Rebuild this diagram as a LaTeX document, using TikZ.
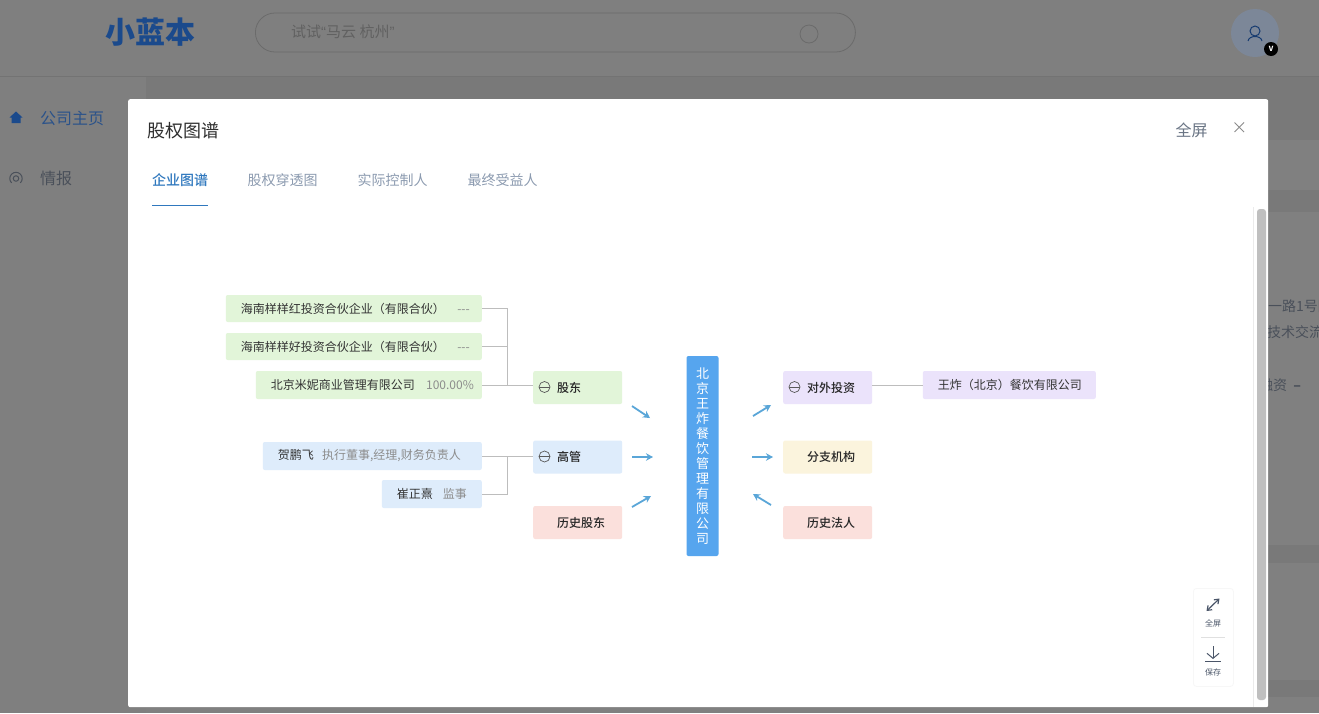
\documentclass[tikz,border=0pt]{standalone}
\usepackage{fontspec}
\setmainfont{Noto Sans CJK SC}
\newfontfamily\medfont{Noto Sans CJK SC Medium}
\newfontfamily\quotefont{Liberation Sans}
\usetikzlibrary{arrows.meta}

\definecolor{dimbg}{HTML}{7F7F7F}
\definecolor{dimdark}{HTML}{797979}
\definecolor{dimpanel}{HTML}{808080}
\definecolor{dimblue}{HTML}{1B4A8C}
\definecolor{dimtext}{HTML}{4A505A}
\definecolor{tabblue}{HTML}{2F78BE}
\definecolor{tabgray}{HTML}{8C9BB0}
\definecolor{bargreen}{HTML}{E2F5D9}
\definecolor{barblue}{HTML}{DEECFB}
\definecolor{barred}{HTML}{FBE0DC}
\definecolor{barpurple}{HTML}{EBE3FB}
\definecolor{baryellow}{HTML}{FBF4DD}
\definecolor{ratiogray}{HTML}{8C8C8C}
\definecolor{flowblue}{HTML}{5AA6D8}
\definecolor{linkgray}{HTML}{BDBDBD}
\definecolor{toolgray}{HTML}{4A5568}
\definecolor{companyblue}{HTML}{56A5EE}
\definecolor{avatarfill}{HTML}{7C8798}

% left padding, name, ratio, right padding
\newcommand{\rowtext}[4]{\hspace*{#1pt}#2\hfill\textcolor{ratiogray}{#3}\hspace*{#4pt}}

\begin{document}
\begin{tikzpicture}
	[x=1pt,y=-1pt,
	itembox/.style={rounded corners=2pt,inner xsep=0pt,inner ysep=0pt,anchor=east,align=left,
		text=black!80,font=\fontsize{12}{14}\selectfont},
	catbox/.style={rounded corners=2pt,inner xsep=0pt,inner ysep=0pt,anchor=west,align=left,
		text width=89pt,minimum height=33pt,text=black!85,font=\fontsize{12}{14}\medfont},
	collapse/.style={circle,draw=black!65,inner sep=0pt,minimum size=11pt,line width=0.7pt,
		path picture={\draw[black!65,line width=0.8pt] (path picture bounding box.west) -- (path picture bounding box.east);}},
	link/.style={draw=linkgray,line width=1pt},
	flow/.style={-{Stealth[length=7pt,width=7.5pt]},draw=flowblue,line width=1.8pt},
	tab/.style={anchor=west,inner sep=0pt,text=tabgray,font=\fontsize{14}{16}\selectfont},
	toolline/.style={draw=toolgray,line width=1pt}]

	\useasboundingbox (0,0) rectangle (1319,713);
	\clip (0,0) rectangle (1319,713);

	% Draw dimmed page
	\fill[dimbg] (0,0) rectangle (1319,713);
	\fill[dimdark] (146,76) rectangle (1319,713);
	\foreach \top/\bottom in {140/190,212/545,563/680,697/713}
		\fill[dimpanel] (146,\top) rectangle (1319,\bottom);
	\draw[black!55,line width=1pt] (0,76.5) -- (1319,76.5);

	\node[inner sep=0pt,anchor=west,text=dimblue,font=\fontsize{30}{32}\selectfont\bfseries] (logo) at (105,32) {小蓝本};
	\node[draw=black!58,line width=0.8pt,rounded corners=19.5pt,minimum width=600pt,minimum height=39pt,anchor=west] (search) at (255,32.5) {};
	\node[inner sep=0pt,anchor=west,text=black!62,font=\fontsize{15}{17}\selectfont] (hint) at (291,32) {试试{\quotefont“}马云 杭州{\quotefont”}};
	\node[circle,draw=black!58,line width=0.8pt,minimum size=18pt,inner sep=0pt] (lens) at (809,34) {};

	% Draw avatar
	\node[circle,fill=avatarfill,minimum size=48pt,inner sep=0pt] (avatar) at (1255,33) {};
	\node[circle,draw=dimblue!80!black,line width=1pt,minimum size=10pt,inner sep=0pt] (head) at (1255,31) {};
	\draw[dimblue!80!black,line width=1pt] (1248,41) .. controls (1249,35) and (1261,35) .. (1262,41);
	\node[circle,fill=black,minimum size=14pt,inner sep=0pt,text=white,font=\fontsize{7}{8}\selectfont\bfseries] (badge) at (1271,49) {V};

	% Draw sidebar
	\fill[dimblue] (16,111.5) -- (22.5,117.5) -- (20.5,117.5) -- (20.5,123) -- (11.5,123) -- (11.5,117.5) -- (9.5,117.5) -- cycle;
	\node[inner sep=0pt,anchor=west,text=dimblue!85!gray,font=\fontsize{16}{18}\selectfont] (home) at (40,118) {公司主页};
	\draw[dimtext,line width=1pt] (11.6,182.9) arc[start angle=135,end angle=405,radius=6.2];
	\node[circle,draw=dimtext,line width=1pt,minimum size=5.5pt,inner sep=0pt] (radar) at (16,178.5) {};
	\node[inner sep=0pt,anchor=west,text=dimtext,font=\fontsize{16}{18}\selectfont] (news) at (40,178) {情报};

	% Text behind the dialog
	\node[inner sep=0pt,anchor=west,text=dimtext,font=\fontsize{14}{16}\selectfont] (addr) at (1268,306) {一路1号园};
	\node[inner sep=0pt,anchor=west,text=dimtext,font=\fontsize{14}{16}\selectfont] (scope) at (1267,332) {技术交流};
	\node[inner sep=0pt,anchor=west,text=dimtext,font=\fontsize{14}{16}\selectfont] (fund) at (1259,385) {融资 \ \textbf{–}};

	% Draw dialog
	\node[fill=white,rounded corners=2pt,minimum width=1140pt,minimum height=608pt,anchor=north west,inner sep=0pt] (dialog) at (128,99) {};
	\node[inner sep=0pt,anchor=west,text=black!82,font=\fontsize{18}{20}\selectfont] (title) at (147,131) {股权图谱};
	\node[inner sep=0pt,anchor=west,text=tabgray!75!black,font=\fontsize{16}{18}\selectfont] (full) at (1175.5,130) {全屏};
	\draw[black!45,line width=0.9pt] (1234.5,122.5) -- (1244,132) (1244,122.5) -- (1234.5,132);

	% Draw tabs
	\node[tab,text=tabblue,font=\fontsize{14}{16}\medfont] (tab1) at (152,180) {企业图谱};
	\node[tab] (tab2) at (247.5,180) {股权穿透图};
	\node[tab] (tab3) at (357.5,180) {实际控制人};
	\node[tab] (tab4) at (467.5,180) {最终受益人};
	\draw[tabblue,line width=1.2pt] (152,205.5) -- (208,205.5);

	% Draw scrollbar
	\draw[black!8,line width=0.6pt] (1253.5,207) -- (1253.5,707);
	\fill[black!25,rounded corners=3pt] (1257,209) rectangle (1266,700);

	% Create shareholder side
	\node[itembox,fill=bargreen,text width=256pt,minimum height=27pt] (hainan1) at (482,308.5)
		{\rowtext{15}{海南样样红投资合伙企业（有限合伙）}{-{}-{}-}{12}};
	\node[itembox,fill=bargreen,text width=256pt,minimum height=27pt] (hainan2) at (482,346.5)
		{\rowtext{15}{海南样样好投资合伙企业（有限合伙）}{-{}-{}-}{12}};
	\node[itembox,fill=bargreen,text width=226pt,minimum height=28pt] (mini) at (482,385)
		{\rowtext{15}{北京米妮商业管理有限公司}{100.00\%}{8}};
	\node[itembox,fill=barblue,text width=219pt,minimum height=28pt] (he) at (482,456)
		{\rowtext{15}{贺鹏飞}{执行董事,经理,财务负责人}{21}};
	\node[itembox,fill=barblue,text width=100pt,minimum height=28pt] (cui) at (482,494)
		{\rowtext{15}{崔正熹}{监事}{15}};

	\node[catbox,fill=bargreen] (holder) at (533,387.5) {\hspace*{24pt}股东};
	\node[catbox,fill=barblue] (manager) at (533,457) {\hspace*{24pt}高管};
	\node[catbox,fill=barred] (oldholder) at (533,522.5) {\hspace*{24pt}历史股东};
	\node[collapse] (foldholder) at (544.5,387) {};
	\node[collapse] (foldmanager) at (544.5,456.5) {};

	% Create investment side
	\node[catbox,fill=barpurple] (invest) at (783,387.5) {\hspace*{24pt}对外投资};
	\node[catbox,fill=baryellow] (branch) at (783,457) {\hspace*{24pt}分支机构};
	\node[catbox,fill=barred] (oldlegal) at (783,522.5) {\hspace*{24pt}历史法人};
	\node[collapse] (foldinvest) at (794.5,387) {};
	\node[itembox,fill=barpurple,text width=173pt,minimum height=28pt] (wangzha) at (1096,385)
		{\hspace*{15pt}王炸（北京）餐饮有限公司};

	% Create company
	\node[fill=companyblue,rounded corners=2pt,minimum width=32pt,minimum height=200pt,
		inner sep=0pt,text=white,font=\fontsize{13}{15}\selectfont] (company) at (702.5,456)
		{\raisebox{1.5pt}{\parbox{14pt}{\centering 北\\京\\王\\炸\\餐\\饮\\管\\理\\有\\限\\公\\司}}};

	% Draw links
	\coordinate (holderbus) at (507.5,385);
	\coordinate (managerbus) at (507.5,456);
	\draw[link] (hainan1.east) -| (holderbus);
	\draw[link] (hainan2.east) -- (hainan2.east -| holderbus);
	\draw[link] (mini.east) -- (mini.east -| holder.west);
	\draw[link] (he.east) -- (he.east -| manager.west);
	\draw[link] (cui.east) -| (managerbus);
	\draw[link] (invest.east |- wangzha.west) -- (wangzha.west);

	% Draw arrows
	\coordinate (A1) at (632,406);
	\coordinate (B1) at (650,418);
	\coordinate (A2) at (632,457);
	\coordinate (B2) at (653,457);
	\coordinate (A3) at (632,507);
	\coordinate (B3) at (651,496);
	\coordinate (A4) at (753,416);
	\coordinate (B4) at (771,405);
	\coordinate (A5) at (752,457);
	\coordinate (B5) at (773,457);
	\coordinate (A6) at (771,505);
	\coordinate (B6) at (753,494);
	\foreach \i in {1,...,6}
		\draw[flow] (A\i) -- (B\i);

	% Draw tool panel
	\node[fill=white,draw=black!3,line width=0.8pt,rounded corners=3pt,minimum width=40pt,minimum height=98pt,anchor=north west] (tools) at (1193,588) {};
	\draw[toolline,line width=1.2pt,{Straight Barb[length=4pt,width=6pt]}-{Straight Barb[length=4pt,width=6pt]}] (1206.5,611) -- (1219.5,598.5);
	\node[inner sep=0pt,text=toolgray,font=\fontsize{8}{9}\selectfont] (toolfull) at (1213,623) {全屏};
	\draw[black!12,line width=0.6pt] (1201,637.5) -- (1225,637.5);
	\draw[toolline,-{Straight Barb[length=5pt,width=12pt]}] (1213,646) -- (1213,659);
	\draw[toolline,line width=1.2pt] (1205,661.5) -- (1221,661.5);
	\node[inner sep=0pt,text=toolgray,font=\fontsize{8}{9}\selectfont] (toolsave) at (1213,672) {保存};

\end{tikzpicture}
\end{document}
